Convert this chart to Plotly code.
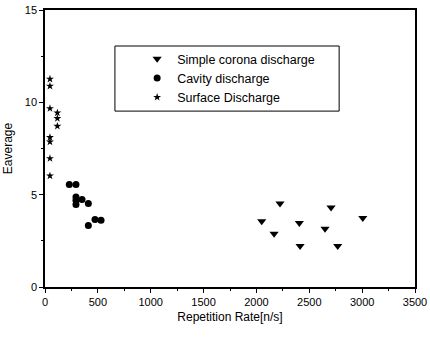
import plotly.graph_objects as go

# Simple corona discharge (triangles)
corona_x = [2223, 2706, 2050, 2406, 3006, 2649, 2167, 2413, 2769]
corona_y = [4.52, 4.30, 3.56, 3.47, 3.74, 3.16, 2.89, 2.22, 2.22]

# Cavity discharge (circles)
cavity_x = [230, 293, 293, 293, 293, 350, 410, 410, 473, 530]
cavity_y = [5.55, 5.55, 4.88, 4.70, 4.47, 4.74, 4.52, 3.33, 3.65, 3.61]

# Surface discharge (stars)
surface_x = [47, 47, 47, 117, 117, 117, 47, 47, 47, 47]
surface_y = [11.26, 10.88, 9.67, 9.43, 9.13, 8.71, 8.10, 7.86, 6.96, 6.02]

x_ticks = [0, 500, 1000, 1500, 2000, 2500, 3000, 3500]
y_ticks = [0, 5, 10, 15]

fig = go.Figure()
fig.add_trace(go.Scatter(x=corona_x, y=corona_y, mode="markers",
                         name="Simple corona discharge",
                         marker=dict(symbol="triangle-down", size=8, color="black")))
fig.add_trace(go.Scatter(x=cavity_x, y=cavity_y, mode="markers",
                         name="Cavity discharge",
                         marker=dict(symbol="circle", size=7, color="black")))
fig.add_trace(go.Scatter(x=surface_x, y=surface_y, mode="markers",
                         name="Surface Discharge",
                         marker=dict(symbol="star", size=6, color="black")))

font_family = "Liberation Sans, Arial, sans-serif"
axis_common = dict(showline=True, linecolor="black", linewidth=1.5, mirror=True,
                   showgrid=False, zeroline=False, ticks="outside", ticklen=4,
                   tickwidth=1, tickcolor="black", automargin=False,
                   tickfont=dict(family=font_family, size=11, color="black"),
                   minor=dict(ticks="outside", ticklen=2, tickcolor="black"))

fig.update_layout(
    width=430, height=339,
    margin=dict(l=45, r=15, t=10, b=52),
    paper_bgcolor="white", plot_bgcolor="white",
    font=dict(family=font_family, color="black"),
    showlegend=True,
    legend=dict(x=0.249, y=0.877, xanchor="left", yanchor="top",
                borderwidth=0, bgcolor="rgba(0,0,0,0)",
                font=dict(family=font_family, size=12.5, color="black"),
                tracegroupgap=0, itemwidth=30),
    shapes=[dict(type="rect", xref="paper", yref="paper",
                 x0=0.189, x1=0.795, y0=0.635, y1=0.870,
                 line=dict(color="black", width=1), layer="below")],
    xaxis=dict(range=[0, 3500], tickvals=x_ticks, ticktext=[str(v) for v in x_ticks],
               title=dict(text="Repetition Rate[n/s]", font=dict(size=12), standoff=6),
               **axis_common),
    yaxis=dict(range=[0, 15], tickvals=y_ticks, ticktext=[str(v) for v in y_ticks],
               title=dict(text="Eaverage", font=dict(size=12), standoff=10),
               **axis_common),
)
fig.update_xaxes(minor=dict(dtick=250))
fig.update_yaxes(minor=dict(dtick=2.5))

fig.write_html("out.html")
